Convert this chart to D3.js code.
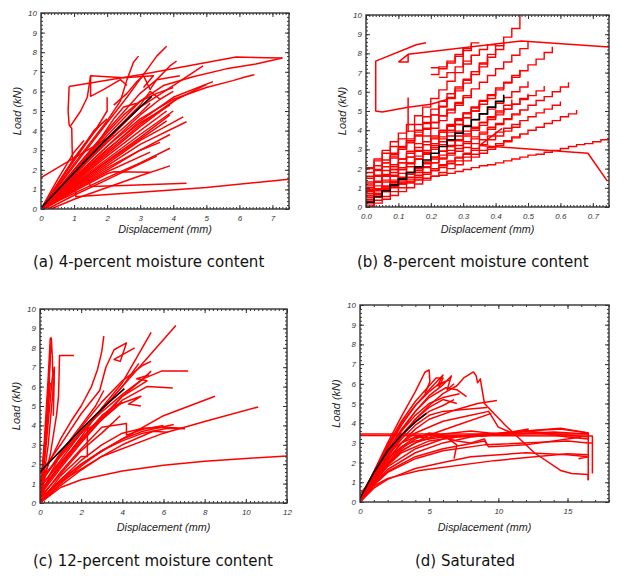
<!DOCTYPE html>
<html><head><meta charset="utf-8">
<script src="https://cdn.jsdelivr.net/npm/d3@7"></script>
<style>body{margin:0;background:#fff}svg{display:block}</style>
</head><body><svg id="c" width="636" height="579"></svg>
<script>
// ---------- DATA ----------
const yTicks = [0,1,2,3,4,5,6,7,8,9,10];
const xTicksA = [0,1,2,3,4,5,6,7];
const xTicksB = [0,0.1,0.2,0.3,0.4,0.5,0.6,0.7];
const xTicksC = [0,2,4,6,8,10,12];
const xTicksD = [0,5,10,15];
const captions = ["(a) 4-percent moisture content","(b) 8-percent moisture content","(c) 12-percent moisture content","(d) Saturated"];
const xTitle = "Displacement (mm)";
const yTitle = "Load (kN)";

// Panel (a): 4-percent
const blackA = [[0,0.05],[1,1.85],[2,3.6],[3,5.2],[3.35,5.75]];
const redA = [
 [[0,0],[1,2.2],[2,4.4],[2.6,5.7],[3.2,7.1],[3.5,7.8],[3.8,8.3]],
 [[0,0],[1,2.3],[2,4.5],[2.4,5.5],[2.6,6.6],[2.8,7.5],[2.95,7.8]],
 [[0,0],[1,2.0],[2,4.0],[3,5.9],[3.5,6.6],[3.9,7.3],[4.1,7.55]],
 [[0,0],[1,1.7],[2,3.5],[3,5.2],[4,6.3],[4.9,7.3]],
 [[0,0],[1,1.6],[2,3.2],[3,4.6],[4,5.6],[5,6.2],[5.8,6.55],[6.2,6.75],[6.45,6.85]],
 [[0,0],[1,1.5],[2,3.0],[3,4.5],[4,5.7],[5.2,6.5]],
 [[0,0],[1,1.45],[2,2.9],[3,4.3],[4,5.5],[5.0,6.35]],
 [[0.85,6.25],[3.0,6.85],[5.9,7.75],[7.3,7.7]],
 [[0,0],[1,1.9],[2,3.75],[3,5.5],[3.7,6.3],[4.6,6.75],[5.6,7.15],[6.5,7.4],[7.3,7.7]],
 [[0.85,6.25],[0.82,5.0],[0.85,4.3],[0.93,4.1],[0.95,2.45],[1.0,2.6]],
 [[0.88,4.2],[1.2,5.0],[1.4,5.7],[1.5,6.8],[2.5,6.7],[3.4,6.8],[3.1,6.2]],
 [[1.5,6.8],[1.5,5.75],[1.9,6.1],[2.4,6.6],[2.6,6.3]],
 [[0,1.6],[0.8,2.4],[1.6,3.2],[2.2,3.8]],
 [[0,0],[0.5,0.5],[0.95,0.9],[1.05,0.9],[1.05,0.62],[3,0.85],[5,1.1],[7.5,1.52]],
 [[0,0],[0.7,0.8],[1.4,1.6],[1.5,1.15],[2.5,1.2],[4.4,1.32]],
 [[0.1,0],[1,0.9],[2,1.8],[2.2,1.9],[3.3,1.88]],
 [[0,0],[1,0.8],[2,1.6],[3,2.35],[3.9,3.1]],
 [[0,0],[1,0.95],[2,1.9],[3.3,2.9]],
 [[0,0],[1,1.1],[2,2.2],[3,3.3],[4.4,4.45]],
 [[0,0],[1,1.15],[2,2.3],[3,3.5],[4.3,4.7]],
 [[0,0],[1,1.3],[2,2.55],[3,3.8],[4.0,5.0]],
 [[0,0],[1,1.25],[2,2.45],[3,3.65],[3.9,4.8]],
 [[0,0],[1,1.2],[2,2.4],[3.8,4.5]],
 [[0,0],[1,1.35],[2,2.7],[3,4.0],[3.8,5.0]],
 [[0,0],[1,1.4],[2,2.8],[3,4.2],[4.1,5.6]],
 [[0,0],[1,1.6],[2,3.2],[3,4.8],[3.6,5.6]],
 [[0,0],[1,1.75],[2,3.4],[3,4.9],[3.3,5.4]],
 [[0,0],[1,2.0],[1.8,3.6],[2.2,4.6],[2.5,5.2],[2.9,5.4]],
 [[0,0],[0.8,2.0],[1.6,3.9],[2.0,5.0],[2.0,5.7]],
 [[0,0],[1,2.5],[1.6,4.0],[2,4.6]],
 [[0,0],[1,2.6],[1.5,3.7],[1.8,4.3]],
 [[0,0],[0.5,1.5],[1,2.9],[1.3,3.5]],
 [[0.3,0],[1,0.5],[2,1.1],[3,1.7],[3.9,2.2]],
 [[0,0],[1,1.05],[2,2.1],[3,3.0],[3.6,3.4]],
 [[2.2,5.3],[2.6,5.9],[2.9,6.5],[3.1,6.8],[3.3,6.1],[3.5,6.6],[4.2,6.8]],
 [[0,0],[1,1.9],[2,3.9],[2.5,4.8],[3.0,5.5],[3.5,5.9],[4.0,6.2]],
 [[0,0],[1,1.55],[2,3.05],[3,4.4],[3.9,5.3]],
 [[0,0],[1,1.0],[2,2.0],[3,3.0],[3.9,3.8]],
 [[0.2,0],[1,0.7],[2,1.5],[3,2.3],[3.5,2.7]],
 [[0,0],[1,1.8],[2,3.6],[3,5.3],[3.3,6.0],[3.6,5.6],[4.0,6.0]]
];

// Panel (b): 8-percent (step readings at displacement resolution)
const stepX = [0,0.025,0.05,0.075,0.1,0.125,0.15,0.175,0.2,0.225,0.25,0.275,0.3,0.325,0.35,0.375,0.4,0.425,0.45,0.475,0.5,0.525,0.55,0.575,0.6,0.625,0.65,0.675,0.7,0.725,0.75];
const blackB = {i0:0, ys:[0.25,0.55,0.85,1.15,1.45,1.8,2.1,2.45,2.8,3.15,3.5,3.85,4.2,4.55,4.85,5.2,5.5,5.85]};
const stepsB = [
 {i0:0, ys:[0.85,0.95,1.05,1.1,1.2,1.3,1.4,1.5,1.6,1.65,1.75,1.85,1.95,2.05,2.15,2.2,2.3,2.4,2.5,2.6,2.7,2.75,2.85,2.95,3.05,3.15,3.25,3.3,3.4,3.5,3.6]},
 {i0:0, ys:[0.5,0.65,0.85,1.0,1.2,1.35,1.55,1.7,1.9,2.05,2.25,2.4,2.6,2.75,2.95,3.1,3.3,3.45,3.65,3.8,4.0,4.15,4.35,4.5,4.7,4.85,5.05]},
 {i0:0, ys:[0.6,0.85,1.05,1.3,1.55,1.8,2.0,2.25,2.5,2.7,2.95,3.2,3.4,3.65,3.9,4.15,4.35,4.6,4.85,5.05,5.3,5.55,5.75,6.0,6.25,6.5]},
 {i0:0, ys:[1.0,1.3,1.65,1.95,2.3,2.6,2.9,3.25,3.55,3.9,4.2,4.5,4.85,5.15,5.5,5.8,6.1,6.45,6.75,7.1,7.4,7.7,8.05,8.35]},
 {i0:0, ys:[1.2,1.65,2.1,2.55,3.0,3.45,3.9,4.35,4.8,5.25,5.7,6.15,6.6,7.05,7.5,7.95,8.4,8.85,9.3,10.0]},
 {i0:0, ys:[2.0,2.4,2.8,3.15,3.55,3.95,4.3,4.7,5.1,5.5,5.9,6.25,6.65,7.05,7.45,7.8,8.2,8.6]},
 {i0:0, ys:[2.05,2.5,2.95,3.4,3.85,4.3,4.75,5.2,5.65,6.1,6.55,7.0,7.45,7.9]},
 {i0:0, ys:[1.5,1.9,2.3,2.75,3.15,3.55,4.0,4.4,4.8,5.2,5.65,6.05,6.45,6.9,7.3,7.7]},
 {i0:0, ys:[1.6,1.95,2.3,2.65,3.0,3.35,3.7,4.05,4.4,4.75,5.1,5.45,5.8,6.15,6.5,6.85,7.2,7.55,7.9,8.25,8.6]},
 {i0:0, ys:[1.0,1.3,1.65,1.95,2.3,2.6,2.95,3.25,3.6,3.9,4.25,4.55,4.9,5.2,5.55,5.85,6.2,6.5,6.85,7.15]},
 {i0:0, ys:[0.8,1.1,1.4,1.65,1.95,2.25,2.5,2.8,3.1,3.4,3.7,3.95,4.25,4.55,4.85,5.1,5.4,5.7,6.0,6.25,6.55]},
 {i0:0, ys:[0.4,0.7,0.95,1.25,1.5,1.8,2.05,2.35,2.6,2.9,3.15,3.45,3.7,4.0,4.25,4.55,4.8,5.1,5.35,5.65,5.9]},
 {i0:0, ys:[0.3,0.55,0.8,1.05,1.3,1.55,1.8,2.05,2.3,2.55,2.8,3.05,3.3,3.55,3.8,4.05,4.3,4.55,4.8,5.05]},
 {i0:0, ys:[0.1,0.35,0.55,0.8,1.0,1.25,1.45,1.7,1.9,2.15,2.35,2.6,2.8,3.05,3.25,3.5,3.7,3.95,4.15,4.4]},
 {i0:0, ys:[0.0,0.2,0.4,0.6,0.8,1.0,1.2,1.4,1.6,1.8,2.0,2.2,2.4,2.6,2.8,3.0,3.2,3.4,3.6,3.8]},
 {i0:0, ys:[0.5,0.7,0.9,1.05,1.25,1.45,1.65,1.8,2.0,2.2,2.4,2.55,2.75,2.95,3.15]},
 {i0:0, ys:[1.3,1.6,1.9,2.2,2.5,2.8,3.1,3.4,3.7,4.0,4.3,4.6,4.9,5.2,5.5]},
 {i0:0, ys:[1.8,2.15,2.45,2.8,3.1,3.45,3.75,4.1,4.4,4.75,5.05,5.4,5.7]},
 {i0:0, ys:[0.6,0.95,1.3,1.6,1.95,2.3,2.65,2.95,3.3,3.65,4.0,4.3,4.65,5.0,5.35,5.65,6.0]},
 {i0:0, ys:[0.2,0.5,0.8,1.1,1.4,1.7,2.0,2.3,2.6,2.9,3.2,3.5,3.8,4.1,4.4,4.7,5.0,5.3,5.6]},
 {i0:0, ys:[0.9,1.3,1.7,2.1,2.5,2.9,3.3,3.7,4.1,4.5,4.9,5.3,5.7,6.1]},
 {i0:8, ys:[6.9,7.2,7.5,7.85,8.15,8.5]},
 {i0:8, ys:[7.25,7.3,7.6,7.95,8.25,8.55,8.55]},
 {i0:9, ys:[6.75,7.0,7.3,7.6,7.9,8.2,8.45,8.5]},
 {i0:0, ys:[0.3,0.65,1.05,1.4,1.75,2.1,2.5,2.85,3.2,3.55,3.9,4.3,4.65,5.0,5.35]},
 {i0:0, ys:[1.1,1.35,1.6,1.8,2.05,2.3,2.5,2.75,3.0,3.25,3.45,3.7,3.95,4.15,4.4,4.65,4.9,5.1,5.35,5.6,5.8,6.05,6.3]},
 {i0:0, ys:[0.7,0.9,1.1,1.3,1.5,1.7,1.9,2.1,2.3,2.5,2.7,2.9,3.1,3.3,3.5,3.7,3.9,4.1,4.3,4.5,4.7,4.9,5.1,5.3,5.5]}
];
const redB = [
 [[0.35,3.2],[0.685,2.8],[0.745,1.35]],
 [[0.35,3.2],[0.42,4.1]],
 [[0.13,5.2],[0.05,4.95],[0.03,5.0],[0.03,7.6],[0.155,8.45],[0.185,8.55]],
 [[0.1,7.55],[0.13,7.95],[0.13,7.55],[0.1,7.55]],
 [[0.13,7.95],[0.48,8.65],[0.75,8.33]],
 [[0.13,5.7],[0.13,3.9]],
 [[0.3,8.3],[0.3,7.3]],
 [[0.13,5.2],[0.2,5.35],[0.25,5.6]]
];

// Panel (c): 12-percent
const blackC = [[0,1.6],[1,2.7],[2,3.8],[3,4.85],[4.1,5.9]];
const redC = [
 [[0,0],[1,0.8],[2,1.2],[4,1.65],[6,1.95],[8,2.15],[10,2.3],[12,2.42]],
 [[0,0],[0.5,0.7],[1,1.1],[3,2.4],[6,3.6],[8,4.2],[10.6,4.95]],
 [[0,0.2],[1,1.2],[2,2.0],[4,3.3],[6,4.5],[8.5,5.5]],
 [[0,0],[1,1.0],[2,1.9],[3,2.7],[4,3.3],[5,3.7],[6.5,4.05]],
 [[0,0.1],[1,1.1],[2,2.0],[3,2.7],[4,3.2],[5,3.6],[6.2,3.85],[7.05,3.83]],
 [[0,0],[1,0.9],[2,1.7],[3,2.4],[4,3.0],[5.5,3.7],[6.2,3.65]],
 [[0,1.2],[2,3.6],[4,6.0],[6.6,9.15]],
 [[0,0.5],[1,2.0],[2,3.4],[3,4.9],[4,6.2],[5.4,8.8]],
 [[0,1.0],[0.5,2.2],[1,3.3],[1.5,4.2],[2,5.0],[2.5,6.0],[2.8,6.9],[3.0,7.8],[3.1,8.6]],
 [[0,0.5],[0.2,3],[0.4,6.5],[0.5,8.5],[0.55,8.4]],
 [[0,0.3],[0.3,4],[0.55,8.5],[0.6,7.5],[0.65,5.5]],
 [[0,0],[0.2,2],[0.4,5],[0.5,7.6],[0.45,6.5]],
 [[0,0.2],[0.3,3],[0.6,6.5],[0.7,7.0],[0.65,4.5]],
 [[0,0],[0.4,3],[0.65,6.0],[0.7,6.5]],
 [[0,0.6],[0.2,2.5],[0.35,4.2],[0.5,6.2]],
 [[0,0.2],[0.5,2.5],[0.8,4.5],[0.9,5.5],[0.95,7.6],[1.65,7.6]],
 [[0,1.0],[1,2.5],[2,3.7],[3,4.7],[4,5.6],[5,6.4],[5.9,6.8],[7.2,6.8]],
 [[0,0.5],[1,1.9],[2,3.2],[3,4.3],[4,5.3],[5.2,6.0],[6.45,5.93]],
 [[0,0.4],[1,1.8],[2,3.1],[3,4.3],[4,5.5],[5.0,6.4],[5.4,6.8]],
 [[0,0.8],[1,2.2],[2,3.6],[3,4.8],[4,6.0],[4.8,7.2]],
 [[0,0.6],[1,2.0],[2,3.3],[3,4.5],[3.6,5.0],[4.9,5.5],[4.3,5.1],[4.9,5.0]],
 [[0,0.3],[1,1.5],[2,2.7],[3,3.6],[3.9,4.5]],
 [[0,1.5],[1,3.0],[2,4.6],[2.9,5.8],[3.2,7.0],[3.6,7.9],[4.2,8.25],[3.9,7.3],[3.6,7.4],[4.6,8.0]],
 [[0,0.8],[1,2.1],[2,3.3],[3,4.4],[4,5.5],[5.2,6.3],[4.7,6.4],[5.3,6.6]],
 [[0,0],[1,1.4],[2,2.4],[2.3,2.4],[2.3,3.8],[3,4.3],[4,5.2]],
 [[0,0.2],[1,1.6],[2,2.8],[3,3.9],[4.2,4.1],[4.2,3.5],[5,3.8],[6,4.0]],
 [[0,0],[1,1.2],[2,2.2],[3,3.0],[4,3.6],[5,3.85],[6,3.9],[7,3.85]],
 [[0,1.0],[1,2.6],[2,4.0],[2.7,5.0],[3.1,5.8]],
 [[0,0.1],[0.5,1.5],[1,2.5],[2,3.9],[3,5.2],[4,6.3],[5,7.1],[5.4,7.3]]
];

// Panel (d): saturated
const blackD = [[0,0.2],[1,1.5],[2,2.6],[3,3.4],[4,4.05],[4.8,4.5]];
const redD = [
 [[0,0],[1,0.8],[2,1.2],[4.3,1.6],[9.7,2.1],[15,2.45],[16.5,2.4]],
 [[0,0],[1,1.55],[2,3.0],[3,4.35],[4,5.6],[4.7,6.6],[5.0,6.7],[5.05,6.1],[4.7,5.5]],
 [[0,0],[1,1.4],[2,2.7],[3,3.9],[4,4.9],[5,5.7],[6.0,6.45],[5.6,5.9],[6.2,6.1]],
 [[0,0],[1,1.3],[2,2.5],[3,3.6],[4,4.6],[5,5.4],[6,5.95],[6.6,6.4],[6.3,5.7],[6.8,6.0]],
 [[0,0],[1,1.2],[2,2.3],[3,3.3],[4,4.2],[5,4.9],[6,5.5],[7,5.9],[7.5,6.3],[8.2,6.6],[8.4,6.4],[8.5,6.05],[8.7,6.25],[8.85,5.6],[9.0,5.0],[10.5,3.9],[12.6,2.5],[14.5,1.6],[15.3,1.45],[16.5,1.4],[16.5,1.1]],
 [[0,0],[1,1.1],[2,2.1],[3,3.0],[4,3.7],[5,4.2],[7,4.7],[8.5,5.0],[9.9,5.15]],
 [[0,0],[1,1.0],[2,1.9],[3,2.6],[5,3.4],[7,3.9],[9.5,4.5]],
 [[0,0],[1,0.95],[2,1.8],[4,2.7],[6,3.2],[8,3.4],[10,3.5],[12,3.6],[14.5,3.7],[16.5,3.5],[16.5,1.1]],
 [[0,3.45],[16.5,3.45]],
 [[0,3.38],[16.8,3.35],[16.8,1.45]],
 [[0,0],[1,0.9],[2,1.65],[4,2.5],[6,3.0],[8,3.3],[12,3.6],[16.5,3.3]],
 [[0,0],[1,0.85],[2,1.5],[4,2.2],[6,2.6],[9,2.9],[15,3.1],[16.5,3.0],[16.8,3.0]],
 [[0,0],[1,0.9],[2,1.55],[4,2.3],[6,2.7],[9,3.1],[9.3,2.8],[12,2.9],[16,3.3]],
 [[0,0],[1,0.7],[2,1.15],[4,1.7],[6,2.0],[8,2.3],[12,2.5],[15,2.4],[16.5,2.3],[15.8,2.2]],
 [[0,0],[1,1.25],[2,2.4],[3,3.4],[4,4.2],[5,4.8],[6,5.2],[7,5.0]],
 [[0,0],[1,1.35],[2,2.6],[3,3.7],[4,4.6],[5,5.3],[6.2,5.8],[7,5.7],[7.7,5.35]],
 [[0,0],[1,1.15],[2,2.2],[3,3.0],[4,3.5],[6,4.1],[8,4.4],[9.3,4.6],[10,3.8],[11,3.5],[13,3.5],[15,3.3],[16.5,3.2]],
 [[0,0],[1,1.05],[2,1.95],[3,2.7],[4,3.2],[5,3.5],[6,3.4],[7,2.9],[6.8,2.2]],
 [[0,0],[1,1.0],[2,1.85],[3,2.5],[5,3.1],[7,3.3],[9,3.35],[12,3.6],[14.5,3.75],[16.5,3.5]],
 [[0,0],[1,1.2],[2,2.3],[3,3.2],[4,3.9],[5,4.4],[6,4.6],[7.5,4.7],[9.2,4.8]],
 [[0,0],[1,1.1],[2,2.0],[3,2.8],[4,3.3],[5,3.4],[6,3.3],[7,3.1],[8,3.0],[9,3.2],[9.2,2.9]],
 [[0,0],[0.5,0.9],[1,1.5],[2,2.5],[3,3.0],[4,3.3],[5,3.25],[5.5,3.5]],
 [[0,0],[1,1.45],[2,2.8],[3,4.0],[4,4.9],[5,5.6],[5.7,6.0],[6.5,6.2]],
 [[0,0.4],[1,1.3],[2,2.2],[3,2.8],[4,3.1],[6,3.3],[8,3.4],[11,3.45],[14,3.55],[16.5,3.45]],
 [[0,0],[1,1.05],[2,1.9],[3,2.6],[4,3.0],[6,3.45],[8,3.6],[10,3.45],[12.2,3.7]],
 [[0,0],[1,1.3],[2,2.45],[3,3.4],[4,4.1],[5,4.6],[6,4.9],[6.8,5.2]],
 [[0,0],[1,1.35],[2,2.55],[3,3.6],[4,4.4],[5,5.0],[6,5.3],[7.2,5.5]],
 [[0,0],[1,1.5],[2,2.9],[3,4.1],[4,5.1],[5,5.9],[5.5,6.3],[6.0,6.3],[5.7,5.8]]
];

// ---------- DRAWING ----------
const svg = d3.select("#c");
const RED = "#ff0000";

function panel(cfg) {
  const x = d3.scaleLinear().domain(cfg.xDomain).range([cfg.left, cfg.right]);
  const y = d3.scaleLinear().domain([0,10]).range([cfg.bottom, cfg.top]);
  const g = svg.append("g");
  const clipId = "clip" + cfg.id;
  svg.append("clipPath").attr("id", clipId).append("rect")
    .attr("x", cfg.left).attr("y", cfg.top)
    .attr("width", cfg.right - cfg.left).attr("height", cfg.bottom - cfg.top);
  const lg = g.append("g").attr("clip-path", `url(#${clipId})`);
  const line = d3.line().x(d => x(d[0])).y(d => y(d[1]));
  const stepLine = d3.line().x(d => x(d[0])).y(d => y(d[1])).curve(d3.curveStepAfter);
  const toPts = s => s.ys.map((v, i) => [stepX[s.i0 + i], v]);

  if (cfg.steps) {
    lg.selectAll(null).data(cfg.steps).join("path")
      .attr("d", s => stepLine(toPts(s)))
      .attr("fill", "none").attr("stroke", RED).attr("stroke-width", 1.4);
  }
  lg.selectAll(null).data(cfg.red).join("path")
    .attr("d", line).attr("fill", "none").attr("stroke", RED)
    .attr("stroke-width", 1.5).attr("stroke-linejoin", "round");
  if (cfg.blackStep) {
    lg.append("path").attr("d", stepLine(toPts(cfg.blackStep)))
      .attr("fill", "none").attr("stroke", "#000").attr("stroke-width", 1.6);
  } else {
    lg.append("path").attr("d", line(cfg.black))
      .attr("fill", "none").attr("stroke", "#000").attr("stroke-width", 1.6);
  }

  const styleAxis = s => {
    s.select(".domain").remove();
    s.selectAll("line").attr("stroke", "#333").attr("stroke-width", 1);
    s.selectAll("text").attr("font-family", "'Liberation Sans', Arial, sans-serif")
      .attr("font-style", "italic").attr("font-size", 8).attr("fill", "#333");
  };
  const ax = (axis, t) => g.append("g").attr("transform", t).call(axis).call(styleAxis);
  const xMinor = d3.range(cfg.xDomain[0], cfg.xDomain[1] + 1e-9, cfg.xMinorStep);
  const yMinor = d3.range(0, 10 + 1e-9, 0.2);
  // minor ticks
  ax(d3.axisBottom(x).tickValues(xMinor).tickSize(-2).tickFormat(""), `translate(0,${cfg.bottom})`);
  ax(d3.axisTop(x).tickValues(xMinor).tickSize(-2).tickFormat(""), `translate(0,${cfg.top})`);
  ax(d3.axisLeft(y).tickValues(yMinor).tickSize(-2).tickFormat(""), `translate(${cfg.left},0)`);
  ax(d3.axisRight(y).tickValues(yMinor).tickSize(-2).tickFormat(""), `translate(${cfg.right},0)`);
  // major ticks
  ax(d3.axisBottom(x).tickValues(cfg.xTicks).tickSize(-4).tickPadding(6.5).tickFormat(cfg.xFmt), `translate(0,${cfg.bottom})`);
  ax(d3.axisTop(x).tickValues(cfg.xTicks).tickSize(-4).tickFormat(""), `translate(0,${cfg.top})`);
  ax(d3.axisLeft(y).tickValues(yTicks).tickSize(-4).tickPadding(4).tickFormat(d3.format("d")), `translate(${cfg.left},0)`);
  ax(d3.axisRight(y).tickValues(yTicks).tickSize(-4).tickFormat(""), `translate(${cfg.right},0)`);

  g.append("rect").attr("x", cfg.left).attr("y", cfg.top)
    .attr("width", cfg.right - cfg.left).attr("height", cfg.bottom - cfg.top)
    .attr("fill", "none").attr("stroke", "#333").attr("stroke-width", 1.4);

  g.append("text").attr("x", (cfg.left + cfg.right) / 2).attr("y", cfg.xTitleY)
    .attr("text-anchor", "middle").attr("font-family", "'Liberation Sans', Arial, sans-serif")
    .attr("font-style", "italic").attr("font-size", 10.8).attr("fill", "#222").text(xTitle);
  g.append("text").attr("transform", `translate(${cfg.yTitleX},${(cfg.top + cfg.bottom) / 2}) rotate(-90)`)
    .attr("text-anchor", "middle").attr("font-family", "'Liberation Sans', Arial, sans-serif")
    .attr("font-style", "italic").attr("font-size", 11).attr("fill", "#222").text(yTitle);
  svg.append("text").attr("x", cfg.capX).attr("y", cfg.capY)
    .attr("font-family", "'DejaVu Sans', Verdana, sans-serif").attr("font-size", 15)
    .attr("fill", "#111").text(cfg.caption);
}

panel({id:"a", left:41, top:13, right:289, bottom:209, xDomain:[0,7.5], xTicks:xTicksA, xMinorStep:0.1,
  xFmt:d3.format("d"), red:redA, black:blackA, xTitleY:233, yTitleX:21, caption:captions[0], capX:33, capY:267});
panel({id:"b", left:366, top:15, right:609, bottom:207, xDomain:[0,0.75], xTicks:xTicksB, xMinorStep:0.01,
  xFmt:d3.format(".1f"), red:redB, steps:stepsB, blackStep:blackB, xTitleY:233, yTitleX:346, caption:captions[1], capX:357, capY:267});
panel({id:"c", left:40, top:309, right:287, bottom:503, xDomain:[0,12], xTicks:xTicksC, xMinorStep:0.2,
  xFmt:d3.format("d"), red:redC, black:blackC, xTitleY:531, yTitleX:20, caption:captions[2], capX:33, capY:566});
panel({id:"d", left:360, top:305, right:609, bottom:502, xDomain:[0,18], xTicks:xTicksD, xMinorStep:1,
  xFmt:d3.format("d"), red:redD, black:blackD, xTitleY:531, yTitleX:340, caption:captions[3], capX:415, capY:566});
</script></body></html>
